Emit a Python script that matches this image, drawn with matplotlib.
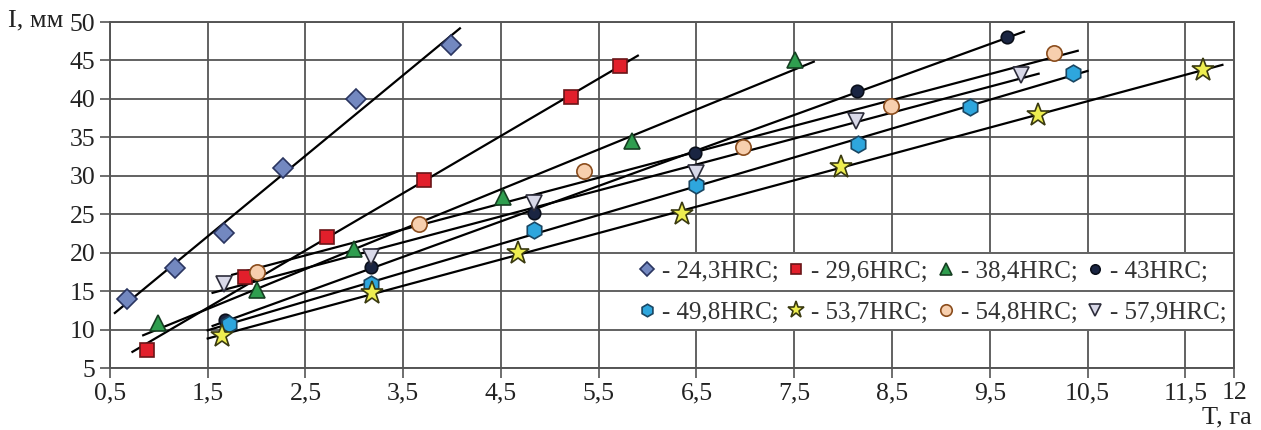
import numpy as np
import matplotlib
matplotlib.use("Agg")
import matplotlib.pyplot as plt

plt.rcParams['font.family'] = ['Liberation Serif', 'DejaVu Serif']

# --- Data: T, ga (x) and I, mm (y) per hardness ---
t_243 = [0.67, 1.17, 1.67, 2.27, 3.02, 3.99]
i_243 = [14.0, 18.0, 22.5, 31.0, 40.0, 47.0]
t_296 = [0.88, 1.88, 2.72, 3.71, 5.22, 5.72]
i_296 = [7.3, 16.8, 22.0, 29.4, 40.2, 44.3]
t_384 = [0.99, 2.0, 3.0, 4.52, 5.84, 7.51]
i_384 = [10.8, 15.2, 20.5, 27.2, 34.5, 45.0]
t_43 = [1.68, 3.17, 4.84, 6.48, 8.14, 9.68]
i_43 = [11.2, 18.2, 25.2, 33.0, 41.0, 48.1]
t_498 = [1.72, 3.17, 4.84, 6.49, 8.15, 9.3, 10.35]
i_498 = [10.7, 15.9, 23.0, 28.8, 34.2, 39.0, 43.4]
t_537 = [1.65, 3.18, 4.67, 6.35, 7.98, 9.99, 11.68]
i_537 = [9.2, 14.8, 20.0, 25.0, 31.2, 37.9, 43.8]
t_548 = [2.0, 3.66, 5.35, 6.98, 8.49, 10.16]
i_548 = [17.5, 23.8, 30.6, 33.8, 39.1, 46.0]
t_579 = [1.67, 3.17, 4.84, 6.49, 8.13, 9.82]
i_579 = [15.9, 19.4, 26.5, 30.4, 37.1, 43.1]

labels = ['- 24,3HRC;', '- 29,6HRC;', '- 38,4HRC;', '- 43HRC;',
          '- 49,8HRC;', '- 53,7HRC;', '- 54,8HRC;', '- 57,9HRC;']
# trend line extent along T
fit_range = [(0.55, 4.08), (0.73, 5.9), (0.84, 7.7), (1.55, 9.85),
             (1.5, 10.5), (1.5, 11.88), (1.75, 10.4), (1.55, 10.0)]

x_ticks = [0.5, 1.5, 2.5, 3.5, 4.5, 5.5, 6.5, 7.5, 8.5, 9.5, 10.5, 11.5, 12]
y_ticks = [5, 10, 15, 20, 25, 30, 35, 40, 45, 50]

series = [(t_243, i_243), (t_296, i_296), (t_384, i_384), (t_43, i_43),
          (t_498, i_498), (t_537, i_537), (t_548, i_548), (t_579, i_579)]
styles = [
    dict(marker='D', ms=10, mfc='#7388c0', mec='#2a3560'),
    dict(marker='s', ms=10, mfc='#e21f2b', mec='#6a1518'),
    dict(marker='^', ms=12, mfc='#2f9e4f', mec='#163f22'),
    dict(marker='o', ms=9, mfc='#1a2542', mec='#0a0f1a'),
    dict(marker='h', ms=12, mfc='#2ea6dd', mec='#1a4662'),
    dict(marker='*', ms=17, mfc='#eeee50', mec='#3a3a10'),
    dict(marker='o', ms=11, mfc='#f7cfae', mec='#8a4c1c'),
    dict(marker='v', ms=12, mfc='#d8d8e8', mec='#2c2c3a'),
]

fig = plt.figure(figsize=(12.61, 4.30), dpi=100)
ax = fig.add_axes([0.0872, 0.144, 0.8915, 0.8048])

handles = []
for (t, i), st, (a, b) in zip(series, styles, fit_range):
    k, c = np.polyfit(t, i, 1)
    xx = np.array([a, b])
    ax.plot(xx, k * xx + c, color='black', lw=1.6, zorder=3)
    h, = ax.plot(t, i, ls='none', mew=1.2, zorder=4, **st)
    handles.append(h)

ax.set_xlim(0.5, 12)
ax.set_ylim(5, 50)
ax.set_xticks(x_ticks)
ax.set_xticklabels([str(v).replace('.', ',') if v != 12 else '12' for v in x_ticks])
ax.set_yticks(y_ticks)
ax.tick_params(axis='both', labelsize=18.5, colors='#555555', labelcolor='#222222',
               length=7, width=1.2, direction='out')
ax.tick_params(axis='x', pad=3)

for s in ax.spines.values():
    s.set_color('#555555')
    s.set_linewidth(1.4)
    s.set_zorder(2.5)

ax.set_axisbelow(True)
ax.grid(axis='x', color='#555555', lw=1.3)
ax.grid(axis='y', color='#555555', lw=1.3)
ax.yaxis.set_zorder(1.8)

order = [0, 4, 1, 5, 2, 6, 3, 7]
leg = ax.legend([handles[j] for j in order], [labels[j] for j in order],
                ncol=4, loc='upper left', bbox_to_anchor=(0.462, 0.334, 0.538, 0.0),
                mode='expand', fontsize=18, frameon=True, fancybox=False,
                handlelength=0.8, handletextpad=0.2, columnspacing=0.2,
                labelspacing=0.75, borderpad=0.3, borderaxespad=0,
                markerscale=0.75)
leg.get_frame().set_facecolor('white')
leg.get_frame().set_edgecolor('none')
leg.get_frame().set_alpha(1)
leg.set_zorder(1.5)
for txt in leg.get_texts():
    txt.set_color('#333333')

fig.text(0.006, 0.952, 'I, мм', fontsize=19, color='#222222', va='center', ha='left')
fig.text(0.993, 0.03, 'T, га', fontsize=19, color='#222222', va='center', ha='right')

fig.savefig('out.png', dpi=100)
